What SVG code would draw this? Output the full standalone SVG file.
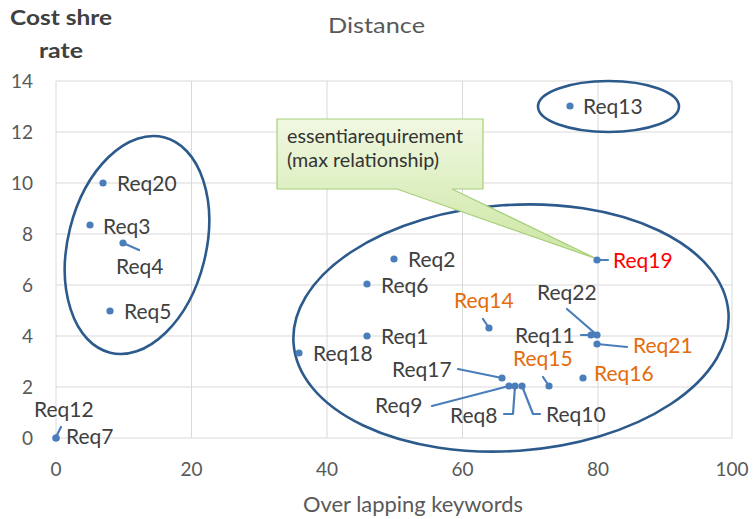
<svg xmlns="http://www.w3.org/2000/svg" width="754" height="519" viewBox="0 0 754 519">
  <defs>
    <style>
      .grid { stroke: #d9d9d9; stroke-width: 1; fill: none; }
      .tick { font-family: Lato, "Liberation Sans", sans-serif; font-size: 19px; fill: #595959; }
      .lbl { font-family: Lato, "Liberation Sans", sans-serif; font-size: 21px; fill: #404040; }
      .orange { fill: #e46c0a; }
      .red { fill: #ff0000; }
      .dot { fill: #4a7ebb; }
      .lead { stroke: #4a7ebb; stroke-width: 2.2; fill: none; stroke-linecap: round; stroke-linejoin: round; }
      .ring { stroke: #2c5a8c; stroke-width: 2.6; fill: none; }
      .title { font-family: Lato, "Liberation Sans", sans-serif; fill: #595959; }
      .axtitle { font-family: Lato, "Liberation Sans", sans-serif; font-size: 21px; font-weight: bold; fill: #404040; }
      .note { font-family: Lato, "Liberation Sans", sans-serif; font-size: 19px; fill: #333333; }
    </style>
    <linearGradient id="calloutFill" x1="0" y1="0" x2="0" y2="1">
      <stop offset="0" stop-color="#f1f8e2"/>
      <stop offset="1" stop-color="#cbe6a2"/>
    </linearGradient>
  </defs>

  <rect x="0" y="0" width="754" height="519" fill="#ffffff"/>

  <!-- plot grid -->
  <g id="grid">
    <path class="grid" d="M56,81H732M56,132H732M56,183H732M56,234H732M56,285H732M56,336H732M56,387H732M56,438H732"/>
    <path class="grid" d="M56,81V438M191.5,81V438M327,81V438M462.5,81V438M598,81V438M732,81V438"/>
  </g>

  <!-- axis tick labels -->
  <g id="y-ticks" class="tick" text-anchor="end">
    <text x="33" y="88">14</text>
    <text x="33" y="139">12</text>
    <text x="33" y="190">10</text>
    <text x="33" y="241">8</text>
    <text x="33" y="292">6</text>
    <text x="33" y="343">4</text>
    <text x="33" y="394">2</text>
    <text x="33" y="445">0</text>
  </g>
  <g id="x-ticks" class="tick" text-anchor="middle">
    <text x="56" y="476">0</text>
    <text x="191.5" y="476">20</text>
    <text x="327" y="476">40</text>
    <text x="462.5" y="476">60</text>
    <text x="598" y="476">80</text>
    <text x="732" y="476">100</text>
  </g>

  <!-- titles -->
  <text id="chart-title" class="title" x="328" y="33" font-size="22" textLength="97" lengthAdjust="spacingAndGlyphs">Distance</text>
  <text id="x-title" class="title" x="303" y="512" font-size="21" textLength="220" lengthAdjust="spacingAndGlyphs">Over lapping keywords</text>
  <g id="y-title" class="axtitle">
    <text x="10" y="25" textLength="102" lengthAdjust="spacingAndGlyphs">Cost shre</text>
    <text x="39" y="58" textLength="44" lengthAdjust="spacingAndGlyphs">rate</text>
  </g>

  <!-- group outlines -->
  <g id="groups">
    <ellipse id="group-top" class="ring" cx="608.5" cy="106.5" rx="70.5" ry="25.5"/>
    <ellipse id="group-left" class="ring" cx="137" cy="245" rx="69" ry="111" transform="rotate(14 137 245)"/>
    <ellipse id="group-main" class="ring" cx="511" cy="328" rx="218" ry="123" transform="rotate(-4 511 328)"/>
  </g>

  <!-- callout -->
  <g id="callout">
    <path d="M277,119H483V189H452L597,259L397,189H277Z" fill="url(#calloutFill)" stroke="#a8cf7a" stroke-width="1.2"/>
    <text class="note" x="287" y="143" textLength="176" lengthAdjust="spacingAndGlyphs">essentiarequirement</text>
    <text class="note" x="287" y="167" textLength="152" lengthAdjust="spacingAndGlyphs">(max relationship)</text>
  </g>

  <!-- leader lines -->
  <g id="connectors" class="lead">
    <path d="M123,243L139,250"/>
    <path d="M483,319L489,328"/>
    <path d="M458,369L502,378"/>
    <path d="M432,406L509,386"/>
    <path d="M515,386L513,414H504"/>
    <path d="M522,386L533,414H540"/>
    <path d="M543,377L549,386"/>
    <path d="M567,309L597,335"/>
    <path d="M581,335H591"/>
    <path d="M597,344L627,347"/>
    <path d="M597,260H608"/>
    <path d="M56,437L61,427"/>
  </g>

  <!-- data points -->
  <g id="Req13"><circle class="dot" cx="570" cy="106" r="3.6"/><text class="lbl" x="583" y="114">Req13</text></g>
  <g id="Req20"><circle class="dot" cx="103" cy="183" r="3.6"/><text class="lbl" x="117" y="191">Req20</text></g>
  <g id="Req3"><circle class="dot" cx="90" cy="225" r="3.6"/><text class="lbl" x="103" y="234">Req3</text></g>
  <g id="Req4"><circle class="dot" cx="123" cy="243" r="3.6"/><text class="lbl" x="116" y="274">Req4</text></g>
  <g id="Req5"><circle class="dot" cx="110" cy="311" r="3.6"/><text class="lbl" x="124" y="319">Req5</text></g>
  <g id="Req2"><circle class="dot" cx="394" cy="259" r="3.6"/><text class="lbl" x="408" y="267">Req2</text></g>
  <g id="Req6"><circle class="dot" cx="367" cy="284" r="3.6"/><text class="lbl" x="381" y="293">Req6</text></g>
  <g id="Req1"><circle class="dot" cx="367" cy="336" r="3.6"/><text class="lbl" x="381" y="344">Req1</text></g>
  <g id="Req18"><circle class="dot" cx="299" cy="353" r="3.6"/><text class="lbl" x="313" y="361">Req18</text></g>
  <g id="Req19"><circle class="dot" cx="597" cy="260" r="3.6"/><text class="lbl red" x="613" y="268">Req19</text></g>
  <g id="Req14"><circle class="dot" cx="489" cy="328" r="3.6"/><text class="lbl orange" x="454" y="308">Req14</text></g>
  <g id="Req22"><circle class="dot" cx="597" cy="335" r="3.6"/><text class="lbl" x="537" y="300">Req22</text></g>
  <g id="Req11"><circle class="dot" cx="591" cy="335" r="3.6"/><text class="lbl" x="515" y="343">Req11</text></g>
  <g id="Req21"><circle class="dot" cx="597" cy="344" r="3.6"/><text class="lbl orange" x="633" y="353">Req21</text></g>
  <g id="Req15"><circle class="dot" cx="549" cy="386" r="3.6"/><text class="lbl orange" x="513" y="366">Req15</text></g>
  <g id="Req16"><circle class="dot" cx="583" cy="378" r="3.6"/><text class="lbl orange" x="594" y="381">Req16</text></g>
  <g id="Req17"><circle class="dot" cx="502" cy="378" r="3.6"/><text class="lbl" x="392" y="377">Req17</text></g>
  <g id="Req9"><circle class="dot" cx="509" cy="386" r="3.6"/><text class="lbl" x="375" y="413">Req9</text></g>
  <g id="Req8"><circle class="dot" cx="515" cy="386" r="3.6"/><text class="lbl" x="450" y="423">Req8</text></g>
  <g id="Req10"><circle class="dot" cx="522" cy="386" r="3.6"/><text class="lbl" x="546" y="422">Req10</text></g>
  <g id="Req12"><circle class="dot" cx="56" cy="438" r="3.6"/><text class="lbl" x="34" y="417">Req12</text></g>
  <g id="Req7"><circle class="dot" cx="56" cy="438" r="3.6"/><text class="lbl" x="66" y="444">Req7</text></g>
</svg>
